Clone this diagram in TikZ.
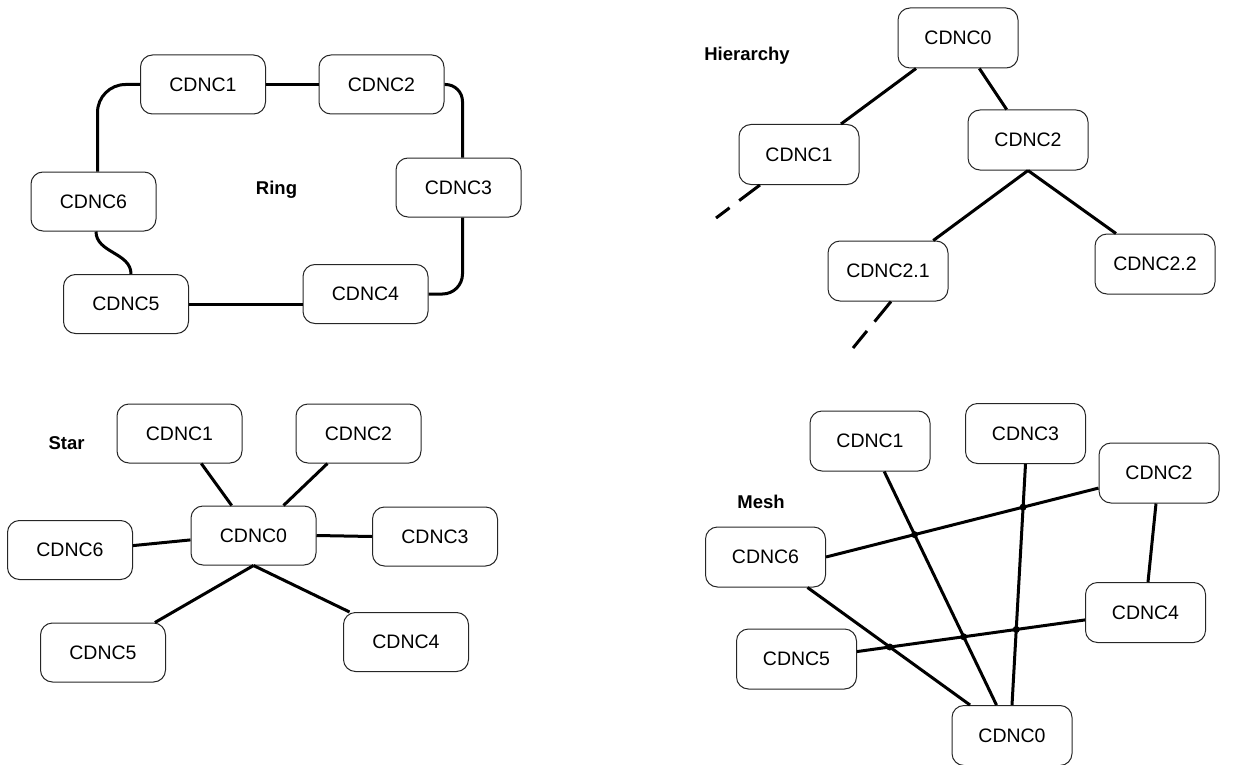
\documentclass[tikz,border=0pt]{standalone}
\usepackage{fontspec}
\setmainfont{Liberation Sans}
\usetikzlibrary{intersections}

\begin{document}
\begin{tikzpicture}[x=1pt,y=-1pt,
  box/.style={draw=black!85, line width=1pt, rounded corners=12pt, minimum width=125pt, minimum height=59pt, inner sep=0pt, font=\fontsize{19.5}{22}\selectfont},
  nbox/.style={box, minimum width=120pt, minimum height=60pt},
  link/.style={line width=3pt},
  dashlink/.style={link, dash pattern=on 26pt off 12pt},
  title/.style={anchor=base, font=\fontsize{18.5}{22}\selectfont\bfseries},
  jump/.style={fill=black, circle, inner sep=0pt, minimum size=7pt}]
\useasboundingbox (0,0) rectangle (1247,765);
% ring
\node[box] (r1) at (203,84.5) {CDNC1};
\node[box] (r2) at (381.5,84.5) {CDNC2};
\node[box] (r3) at (458.5,187.5) {CDNC3};
\node[box] (r4) at (365.5,294) {CDNC4};
\node[box] (r5) at (126,304) {CDNC5};
\node[box] (r6) at (93.5,201.5) {CDNC6};
\node[title] (ring) at (276.5,194) {Ring};
\draw[link] (r1.east) -- (r2.west);
\draw[link, rounded corners=17pt] (r2.east) -| ([xshift=4pt]r3.north);
\draw[link, rounded corners=20pt] ([xshift=4pt]r3.south) |- (r4.east);
\draw[link] (r5.east) -- (r5.east -| r4.west);
\draw[link] ([xshift=2.5pt]r6.south) to[out=-90,in=90] ([xshift=5pt]r5.north);
\draw[link, rounded corners=28pt] ([xshift=4pt]r6.north) |- (r1.west);
% hierarchy
\node[nbox] (h0) at (958,38) {CDNC0};
\node[nbox] (h1) at (799,154.5) {CDNC1};
\node[nbox] (h2) at (1028,140) {CDNC2};
\node[nbox] (h21) at (888,271) {CDNC2.1};
\node[nbox] (h22) at (1155,264) {CDNC2.2};
\node[title] (hier) at (747,61) {Hierarchy};
\coordinate (h1end) at (716,218);
\coordinate (h21end) at (853,348);
\draw[link] (h0.-144) -- (h1.36);
\draw[link] (h0.-55) -- (h2.125);
\draw[link] (h2.south) -- (h21.34);
\draw[link] (h2.south) -- (h22.142);
\draw[dashlink] (h1.-142) -- (h1end);
\draw[dashlink] ([xshift=3pt]h21.south) -- (h21end);
% star
\node[box] (s0) at (253.5,535.5) {CDNC0};
\node[box] (s1) at (179.5,433.5) {CDNC1};
\node[box] (s2) at (358.5,433.5) {CDNC2};
\node[box] (s3) at (435,536.5) {CDNC3};
\node[box] (s4) at (406,642) {CDNC4};
\node[box] (s5) at (103,652.5) {CDNC5};
\node[box] (s6) at (70,550) {CDNC6};
\node[title] (star) at (66.5,449) {Star};
\draw[link] (s1.-54) -- (s0.126);
\draw[link] (s2.-136) -- (s0.45);
\draw[link] (s0.east) -- (s3.west);
\draw[link] (s6.4) -- (s0.184);
\draw[link] (s0.south) -- (s5.30);
\draw[link] (s0.south) -- (s4.152);
% mesh
\node[nbox] (m0) at (1012,735.5) {CDNC0};
\node[nbox] (m1) at (870,441) {CDNC1};
\node[nbox] (m2) at (1159,473) {CDNC2};
\node[nbox] (m3) at (1025.5,433.5) {CDNC3};
\node[nbox] (m4) at (1145.5,612.5) {CDNC4};
\node[nbox] (m5) at (796.5,659) {CDNC5};
\node[nbox] (m6) at (765.5,557) {CDNC6};
\node[title] (mesh) at (761,508) {Mesh};
\draw[link, name path=a] (m1.-65) -- (m0.117);
\draw[link, name path=b] (m3.south) -- (m0.north);
\draw[link, name path=c] (m6.-36) -- (m0.144);
\draw[link, name path=d] (m6.east) -- (m2.-166);
\draw[link, name path=e] (m5.7) -- (m4.187);
\draw[link] ([xshift=-3pt]m2.south) -- ([xshift=2.5pt]m4.north);
\fill[name intersections={of=a and d, name=ad}] (ad-1) circle[radius=3.5pt];
\fill[name intersections={of=b and d, name=bd}] (bd-1) circle[radius=3.5pt];
\fill[name intersections={of=a and e, name=ae}] (ae-1) circle[radius=3.5pt];
\fill[name intersections={of=b and e, name=be}] (be-1) circle[radius=3.5pt];
\fill[name intersections={of=c and e, name=ce}] (ce-1) circle[radius=3.5pt];
\end{tikzpicture}
\end{document}
